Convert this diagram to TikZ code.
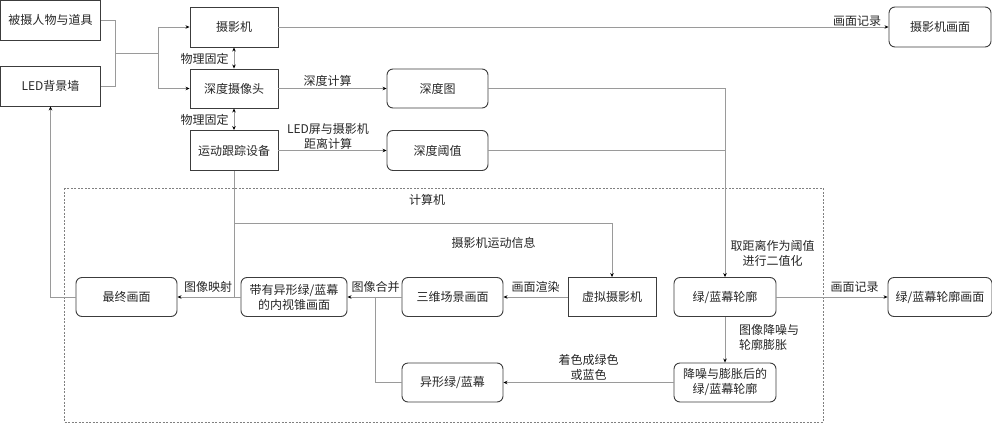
\documentclass[tikz,border=0pt]{standalone}
\usepackage{fontspec}
\setmainfont{Noto Sans CJK SC}
\usetikzlibrary{arrows.meta}
\definecolor{linegray}{HTML}{9A9A9A}
\definecolor{boxline}{HTML}{3C3C3C}
\begin{document}
\begin{tikzpicture}[x=1pt,y=-1pt,
  every node/.style={font=\fontsize{12}{15}\selectfont, text=black!85, inner sep=0pt},
  sqbox/.style={draw=boxline, line width=0.9pt, minimum width=#1, minimum height=40pt, align=center},
  rdbox/.style={draw=boxline, line width=0.9pt, rounded corners=6pt, minimum width=#1, minimum height=40pt, align=center},
  conn/.style={draw=linegray, line width=0.7pt},
  arr/.style={conn, -{Stealth[length=4pt,width=3.5pt,color=black]}},
  darr/.style={conn, {Stealth[length=4pt,width=3.5pt,color=black]}-{Stealth[length=4pt,width=3.5pt,color=black]}},
  lbl/.style={align=center}
]
\useasboundingbox (0,0) rectangle (992,423);
% computer frame
\draw[draw=gray, line width=0.6pt, dash pattern=on 2pt off 1.5pt] (64,188) rectangle (823,422);
\node (comp) at (427,200) {计算机};

% top boxes
\node[sqbox=100pt] (A) at (50.5,20) {被摄人物与道具};
\node[sqbox=100pt] (B) at (50.5,86) {LED背景墙};
\node[sqbox=88pt] (C) at (234,27) {摄影机};
\node[sqbox=88pt, minimum height=39pt] (D) at (234,88.5) {深度摄像头};
\node[sqbox=88pt] (E) at (234,150.5) {运动跟踪设备};
\node[rdbox=101pt, minimum height=39pt] (F) at (437.5,88.5) {深度图};
\node[rdbox=101pt] (G) at (437.5,150.5) {深度阈值};
\node[rdbox=102pt] (H) at (940,27) {摄影机画面};

% computer boxes
\node[rdbox=101pt, minimum height=39pt] (I) at (126.5,297) {最终画面};
\node[rdbox=106pt, minimum height=39pt] (J) at (294,297) {带有异形绿/蓝幕\\的内视锥画面};
\node[rdbox=101pt, minimum height=39pt] (K) at (452.5,297) {三维场景画面};
\node[rdbox=101pt, minimum height=39pt] (L) at (452.5,382.5) {异形绿/蓝幕};
\node[sqbox=88pt, minimum height=39pt] (M) at (612,297) {虚拟摄影机};
\node[rdbox=102pt, minimum height=39pt] (N) at (725,297) {绿/蓝幕轮廓};
\node[rdbox=102pt, minimum height=39pt] (O) at (725,382.5) {降噪与膨胀后的\\绿/蓝幕轮廓};
\node[rdbox=104pt, minimum height=39pt] (P) at (940,297) {绿/蓝幕轮廓画面};

% junction coordinates
\coordinate (j1) at (115,53);
\coordinate (j2) at (158,53);
\coordinate (t1) at (234,223);
\coordinate (t2) at (234,297);
\coordinate (m1) at (375,297);

% connectors
\draw[conn] (A.east) -| (j1);
\draw[conn] (B.east) -| (j1);
\draw[conn] (j1) -- (j2);
\draw[arr] (j2) |- (C.west);
\draw[arr] (j2) |- (D.west);
\draw[darr] (C.south) -- (D.north);
\draw[darr] (D.south) -- (E.north);
\draw[arr] (C.east) -- (H.west);
\draw[arr] (D.east) -- (F.west);
\draw[arr] (E.east) -- (G.west);
\draw[arr] (F.east) -| (N.north);
\draw[conn] (G.east) -- (G.east -| N.north);
\draw[arr] (E.south) -- (t1) -| (M.north);
\draw[conn] (t1) -- (t2);
\draw[arr] (J.west) -- (I.east);
\draw[arr] (K.west) -- (J.east);
\draw[conn] (L.west) -| (m1);
\draw[arr] (M.west) -- (K.east);
\draw[arr] (N.east) -- (P.west);
\draw[arr] (N.south) -- (O.north);
\draw[arr] (O.west) -- (L.east);
\draw[arr] (I.west) -| (B.south);

% labels
\node[lbl] (l1) at (204.5,59) {物理固定};
\node[lbl] (l2) at (204.5,120) {物理固定};
\node[lbl] (l3) at (327.5,81) {深度计算};
\node[lbl] (l4) at (328,136.5) {LED屏与摄影机\\距离计算};
\node[lbl] (l5) at (857,21) {画面记录};
\node[lbl] (l6) at (493.5,243) {摄影机运动信息};
\node[lbl] (l7) at (208,287) {图像映射};
\node[lbl] (l8) at (375.5,287) {图像合并};
\node[lbl] (l9) at (535.5,287) {画面渲染};
\node[lbl] (l10) at (772.5,253.5) {取距离作为阈值\\进行二值化};
\node[lbl] (l11) at (854.5,287) {画面记录};
\node[align=left] (l12) at (769,337.5) {图像降噪与\\轮廓膨胀};
\node[lbl] (l13) at (588.5,367.5) {着色成绿色\\或蓝色};
\end{tikzpicture}
\end{document}
